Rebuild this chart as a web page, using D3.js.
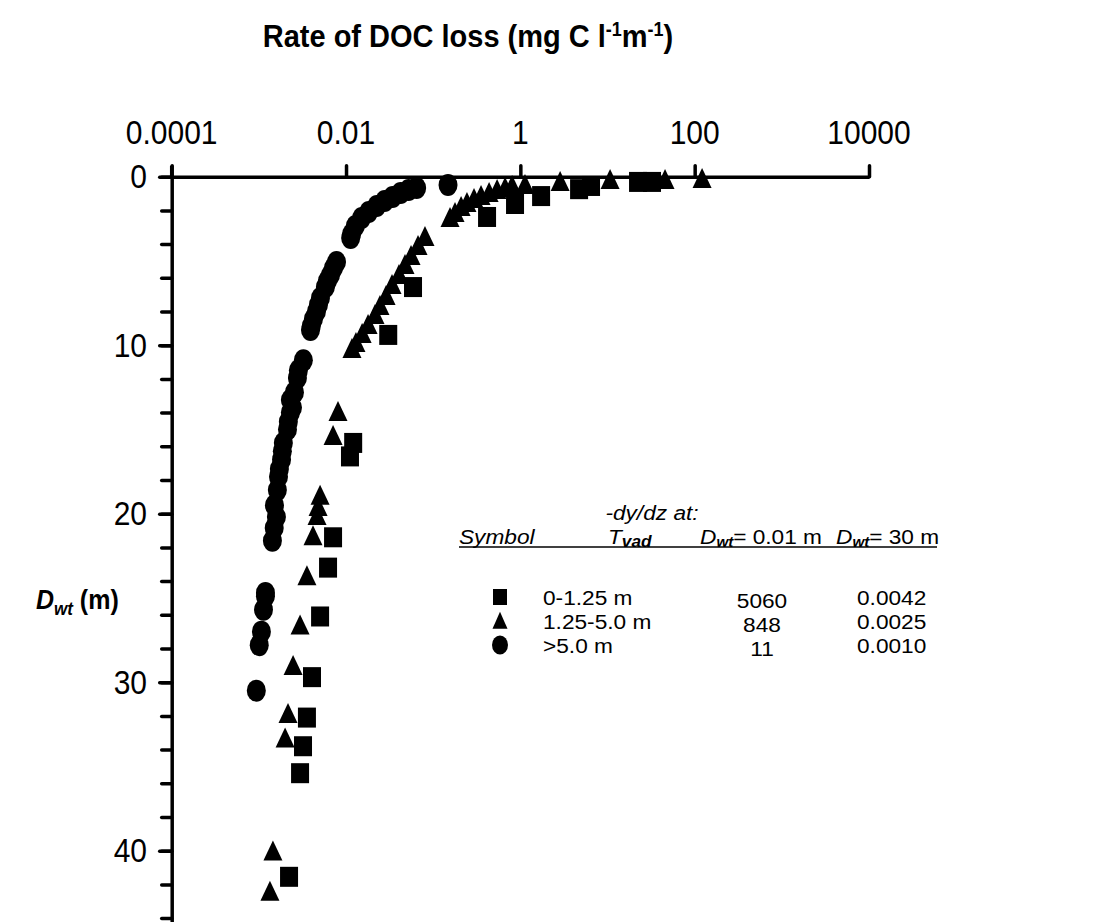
<!DOCTYPE html>
<html><head><meta charset="utf-8">
<script src="https://cdn.jsdelivr.net/npm/d3@7"></script>
<style>
html,body{margin:0;padding:0;background:#fff;}
svg{display:block;font-family:"Liberation Sans",Arial,sans-serif;}
</style></head>
<body>
<svg id="c" width="1109" height="922"></svg>
<script>
// ---- data (rate of DOC loss, mg C/l/m ; depth below water table, m) ----
const xTickValues = [1e-4, 1e-2, 1, 100, 1e4];
const xTickLabels = ["0.0001", "0.01", "1", "100", "10000"];
const yTickValues = [0, 10, 20, 30, 40];
const yTickLabels = ["0", "10", "20", "30", "40"];

// squares: T_vad 0-1.25 m
const squareRate  = [32.4, 22.4, 6.47, 4.72, 1.73, 0.869, 0.415, 0.0587, 0.0305, 0.01208, 0.0111, 0.0071, 0.00622, 0.00504, 0.00407, 0.00356, 0.00321, 0.00297, 0.00222];
const squareDepth = [0.31, 0.31, 0.55, 0.74, 1.15, 1.62, 2.39, 6.55, 9.39, 15.8, 16.6, 21.4, 23.2, 26.1, 29.7, 32.1, 33.8, 35.4, 41.55];

// triangles: T_vad 1.25-5.0 m
const triangleRate  = [121.6, 45.7, 10.7, 2.86, 1.13, 0.804, 0.668, 0.541, 0.438, 0.354, 0.294, 0.244, 0.209, 0.178, 0.156,
  0.0805, 0.067, 0.0557, 0.0475, 0.0405, 0.0337, 0.0288, 0.0245, 0.0215, 0.0179, 0.0153, 0.013, 0.0117,
  0.00809, 0.0071, 0.00504, 0.00478, 0.00465, 0.00418, 0.00356, 0.00297, 0.00247, 0.00216, 0.002, 0.00145, 0.00134];
const triangleDepth = [0.2, 0.26, 0.26, 0.37, 0.55, 0.61, 0.73, 0.85, 1.03, 1.2, 1.38, 1.62, 1.86, 2.21, 2.51,
  3.64, 4.17, 4.77, 5.3, 5.89, 6.49, 7.14, 7.73, 8.27, 8.86, 9.39, 9.93, 10.29,
  14.03, 15.45, 19.0, 19.66, 20.2, 21.4, 23.77, 26.7, 29.1, 31.95, 33.4, 40.1, 42.5];

// circles: T_vad > 5.0 m
const circleRate  = [0.148, 0.0646, 0.0522, 0.0423, 0.0342, 0.0277, 0.0225, 0.0182, 0.0151, 0.0128, 0.0116, 0.0113,
  0.00778, 0.00718, 0.00664, 0.00612, 0.0058, 0.00509, 0.00483, 0.00458, 0.00423, 0.004, 0.00391,
  0.00324, 0.00284, 0.00277, 0.00256, 0.00243, 0.0023, 0.0023, 0.00218, 0.00213,
  0.00191, 0.00186, 0.00182, 0.00172, 0.00168, 0.00163, 0.00151, 0.00159, 0.0015, 0.00143,
  0.00119, 0.00119, 0.00113, 0.00107, 0.00101, 0.000935];
const circleDepth = [0.49, 0.67, 0.79, 0.97, 1.2, 1.44, 1.74, 2.1, 2.45, 2.93, 3.4, 3.64,
  5.06, 5.42, 5.83, 6.19, 6.55, 7.2, 7.6, 8.0, 8.45, 8.86, 9.1,
  10.9, 11.5, 11.95, 12.8, 13.7, 13.25, 14.0, 14.55, 15.0,
  15.8, 16.3, 16.8, 17.35, 17.8, 18.6, 19.5, 20.2, 20.85, 21.6,
  24.7, 24.9, 25.7, 27.0, 27.8, 30.5];

// legend table
const legendSymbols = ["square", "triangle", "circle"];
const legendTvad = ["0-1.25 m", "1.25-5.0 m", ">5.0 m"];
const legendSlope001 = ["5060", "848", "11"];
const legendSlope30 = ["0.0042", "0.0025", "0.0010"];

// ---- drawing ----
const svg = d3.select("#c");
const x = d3.scaleLog().domain([1e-4, 1e4]).range([171.7, 869]);
const y = d3.scaleLinear().domain([0, 50]).range([176.7, 176.7 + 50 * 16.85]);

function stext(px, py, size, anchor, sx, sy) {
  return svg.append("text")
    .attr("transform", `translate(${px},${py}) scale(${sx || 1},${sy || 1})`)
    .attr("font-size", size).attr("text-anchor", anchor || "start").attr("fill", "#000");
}

// title
const title = stext(468, 47, 29, "middle", 1, 1.1).attr("font-weight", "bold");
title.append("tspan").text("Rate of DOC loss (mg C l");
title.append("tspan").attr("font-size", 18).attr("dy", -10).text("-1");
title.append("tspan").attr("dy", 10).text("m");
title.append("tspan").attr("font-size", 18).attr("dy", -10).text("-1");
title.append("tspan").attr("dy", 10).text(")");

// x axis (top)
const xAxis = d3.axisTop(x).tickValues(xTickValues).tickFormat("").tickSize(11).tickSizeOuter(0);
const gx = svg.append("g").attr("transform", `translate(0,${y(0)})`).call(xAxis);
gx.select(".domain").attr("stroke", "#000").attr("stroke-width", 3.5);
gx.selectAll(".tick line").attr("stroke", "#000").attr("stroke-width", 3.5).attr("stroke-linecap", "round");
xTickValues.forEach((v, i) => stext(x(v), 144, 30, "middle", 1, 1.1).text(xTickLabels[i]));

// y axis minor
const yMinor = d3.axisLeft(y).tickValues(d3.range(0, 50, 2)).tickFormat("").tickSize(10).tickSizeOuter(0);
const gym = svg.append("g").attr("transform", `translate(${x(1e-4)},0)`).call(yMinor);
gym.select(".domain").remove();
gym.selectAll(".tick line").attr("stroke", "#000").attr("stroke-width", 3.5).attr("stroke-linecap", "round");

// y axis major
const yAxis = d3.axisLeft(y).tickValues(yTickValues).tickFormat("").tickSize(12).tickSizeOuter(0);
const gy = svg.append("g").attr("transform", `translate(${x(1e-4)},0)`).call(yAxis);
gy.select(".domain").attr("stroke", "#000").attr("stroke-width", 3.5);
gy.selectAll(".tick line").attr("stroke", "#000").attr("stroke-width", 3.5).attr("stroke-linecap", "round");
yTickValues.forEach((v, i) => stext(147, y(v) + 11.5, 30, "end", 1, 1.1).text(yTickLabels[i]));
svg.append("line").attr("x1", x(1e-4)).attr("x2", x(1e-4)).attr("y1", y(0) - 11).attr("y2", y(0))
  .attr("stroke", "#000").attr("stroke-width", 3.5);

// y label
const ylab = stext(36, 609, 25, "start", 1, 1.1).attr("font-weight", "bold");
ylab.append("tspan").attr("font-style", "italic").text("D");
ylab.append("tspan").attr("font-style", "italic").attr("font-size", 17).attr("dy", 5).text("wt");
ylab.append("tspan").attr("dy", -5).text(" (m)");

// markers
const sq = 18, sqh = 20;
function triPath(cx, cy, w, h) {
  return `M${cx},${cy - h * 0.6}L${cx + w / 2},${cy + h * 0.4}L${cx - w / 2},${cy + h * 0.4}Z`;
}
const sqData = squareRate.map((v, i) => ({v, d: squareDepth[i]}));
const trData = triangleRate.map((v, i) => ({v, d: triangleDepth[i]}));
const ciData = circleRate.map((v, i) => ({v, d: circleDepth[i]}));

svg.append("g").selectAll("ellipse").data(ciData).join("ellipse")
  .attr("cx", d => x(d.v)).attr("cy", d => y(d.d)).attr("rx", 9.5).attr("ry", 11).attr("fill", "#000");
svg.append("g").selectAll("path").data(trData).join("path")
  .attr("d", d => triPath(x(d.v), y(d.d), 19, 20)).attr("fill", "#000");
svg.append("g").selectAll("rect").data(sqData).join("rect")
  .attr("x", d => x(d.v) - sq / 2).attr("y", d => y(d.d) - sqh / 2).attr("width", sq).attr("height", sqh).attr("fill", "#000");

// legend
const fs = 21, LX = 1.08;
stext(652, 520, fs, "middle", LX).attr("font-style", "italic").text("-dy/dz at:");
const hdrY = 544;
stext(459, hdrY, fs, "start", LX).attr("font-style", "italic").text("Symbol");
const t1 = stext(608, hdrY, fs, "start", LX).attr("font-style", "italic");
t1.append("tspan").text("T");
t1.append("tspan").attr("font-size", 16).attr("dy", 3).attr("font-weight", "bold").text("vad");
const t2 = stext(700, hdrY, fs, "start", LX);
t2.append("tspan").attr("font-style", "italic").text("D");
t2.append("tspan").attr("font-style", "italic").attr("font-weight", "bold").attr("font-size", 14).attr("dy", 3).text("wt");
t2.append("tspan").attr("dy", -3).text("= 0.01 m");
const t3 = stext(836, hdrY, fs, "start", LX);
t3.append("tspan").attr("font-style", "italic").text("D");
t3.append("tspan").attr("font-style", "italic").attr("font-weight", "bold").attr("font-size", 14).attr("dy", 3).text("wt");
t3.append("tspan").attr("dy", -3).text("= 30 m");
svg.append("line").attr("x1", 459).attr("x2", 937).attr("y1", hdrY + 3).attr("y2", hdrY + 3)
  .attr("stroke", "#000").attr("stroke-width", 1.6);

const rowY = [597, 621, 645];
legendSymbols.forEach((s, i) => {
  const cy = rowY[i];
  if (s === "square") svg.append("rect").attr("x", 493).attr("y", cy - 8).attr("width", 14).attr("height", 16).attr("fill", "#000");
  if (s === "triangle") svg.append("path").attr("d", triPath(500, cy + 1, 15, 17)).attr("fill", "#000");
  if (s === "circle") svg.append("ellipse").attr("cx", 500).attr("cy", cy).attr("rx", 8).attr("ry", 9.5).attr("fill", "#000");
  stext(543, cy + 8, fs, "start", LX).text(legendTvad[i]);
  stext(762, cy + 11, fs, "middle", LX).text(legendSlope001[i]);
  stext(857, cy + 8, fs, "start", LX).text(legendSlope30[i]);
});
</script>
</body></html>
